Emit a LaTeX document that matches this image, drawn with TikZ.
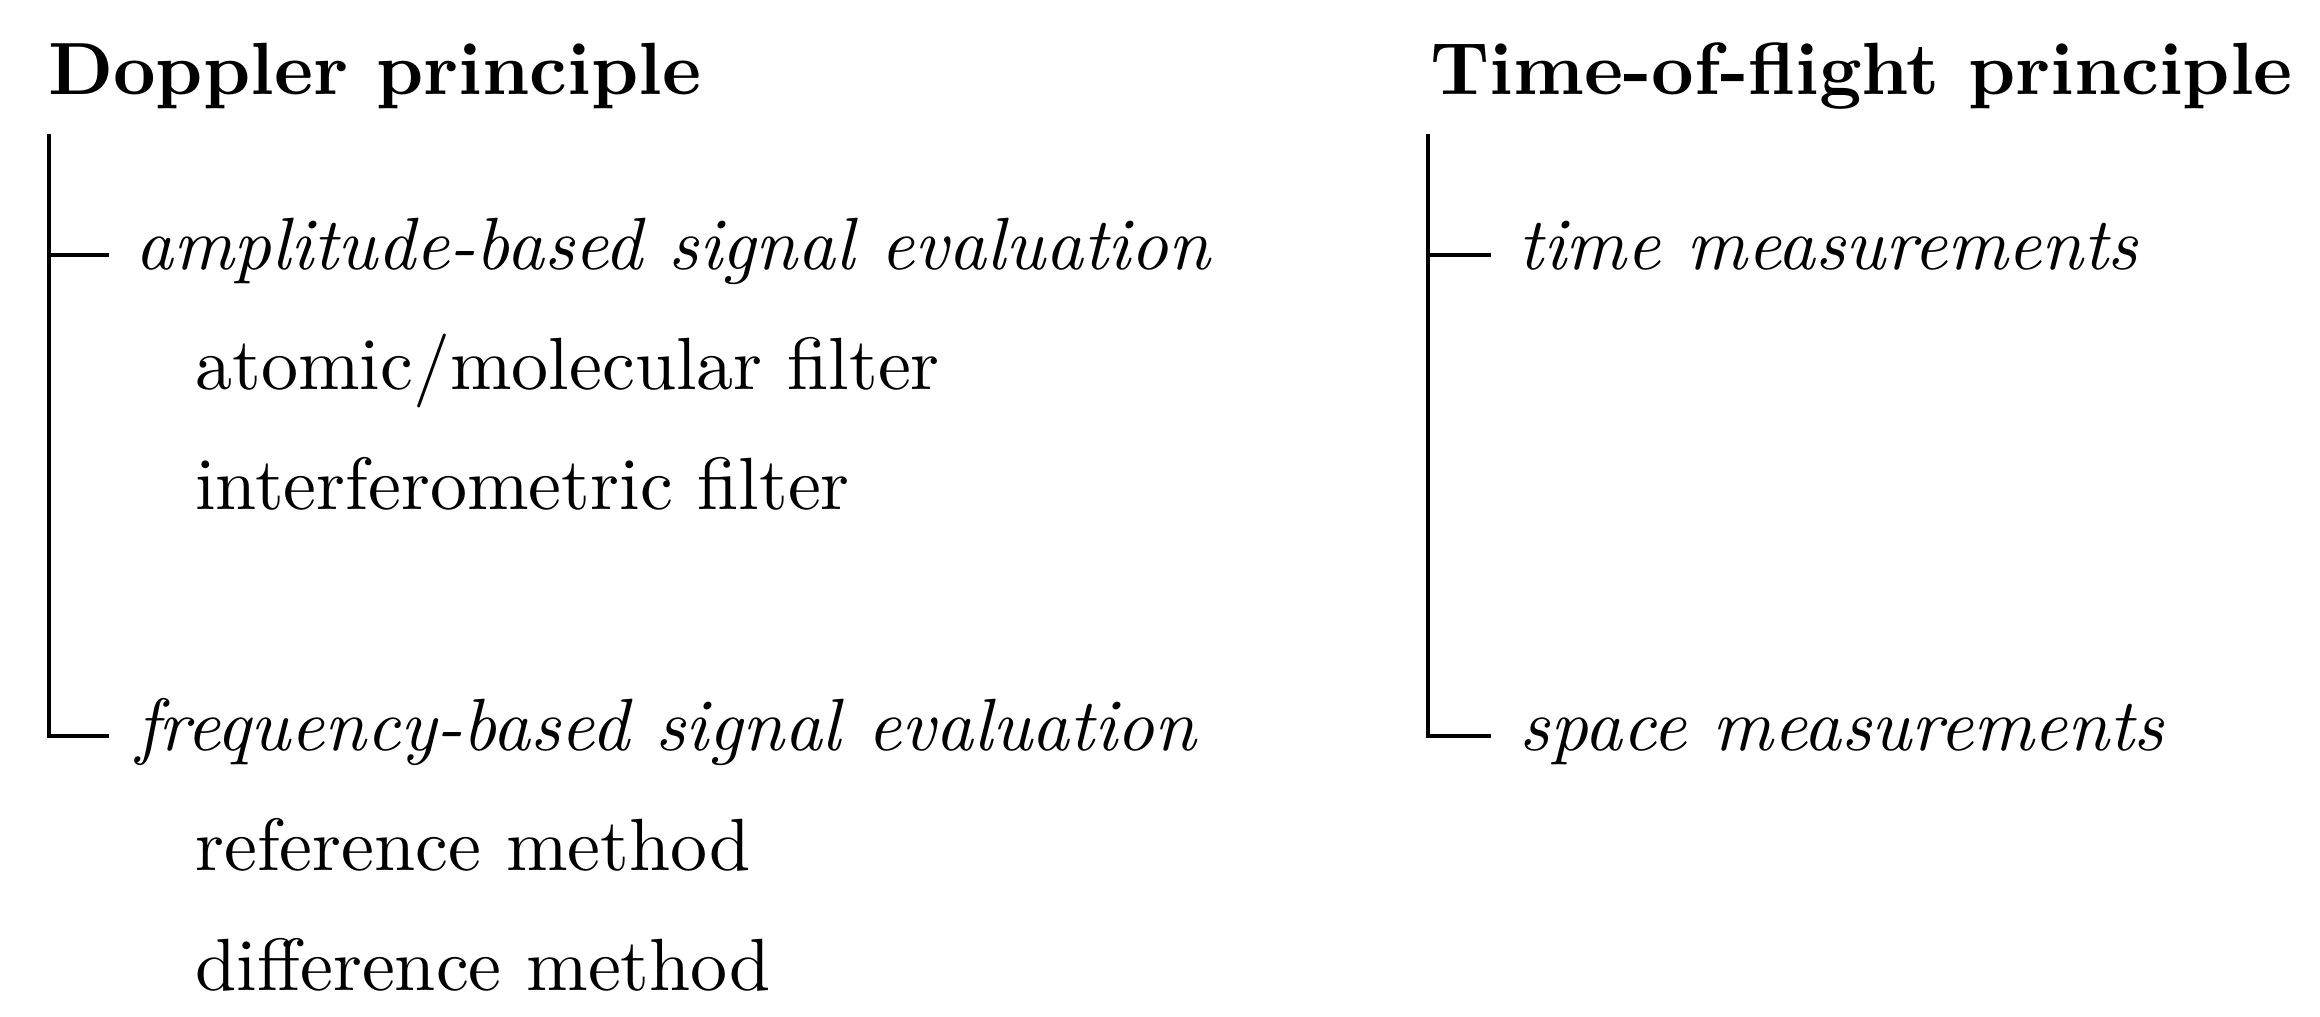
\documentclass[tikz,border=0pt]{standalone}
\usetikzlibrary{calc}
\begin{document}
\begin{tikzpicture}[x=1pt,y=1pt,
  title/.style={font=\bfseries, anchor=base west, inner sep=0pt},
  lvlone/.style={font=\itshape, anchor=base west, inner sep=0pt},
  lvltwo/.style={anchor=base west, inner sep=0pt},
  branch/.style={line width=0.55pt, line cap=rect}]
\useasboundingbox (0,0) rectangle (313.51,-137.30);

% left column
\node[title] (dop) at (6.3,-12.70) {Doppler principle};
\node[lvlone] (amp) at (18.1,-36.35) {amplitude-based signal evaluation};
\node[lvltwo] (atom) at (26.2,-52.57) {atomic/molecular filter};
\node[lvltwo] (inter) at (26.2,-68.78) {interferometric filter};
\node[lvlone] (freq) at (18.2,-101.35) {frequency-based signal evaluation};
\node[lvltwo] (ref) at (26.2,-117.57) {reference method};
\node[lvltwo] (diff) at (26.2,-133.78) {difference method};

% right column
\node[title] (tof) at (193.1,-12.70) {Time-of-flight principle};
\node[lvlone] (time) at (205.0,-36.35) {time measurements};
\node[lvlone] (space) at (205.2,-101.35) {space measurements};

% connectors
\coordinate (dtop) at (6.62,-18.38);
\coordinate (ampend) at ($(amp.base west)+(-3.7,1.85)$);
\coordinate (freqend) at ($(freq.base west)+(-3.8,1.85)$);
\draw[branch] (dtop) |- (freqend);
\draw[branch] (dtop |- ampend) -- (ampend);

\coordinate (ttop) at (193.0,-18.38);
\coordinate (timeend) at ($(time.base west)+(-3.8,1.85)$);
\coordinate (spaceend) at ($(space.base west)+(-4.0,1.85)$);
\draw[branch] (ttop) |- (spaceend);
\draw[branch] (ttop |- timeend) -- (timeend);
\end{tikzpicture}
\end{document}
